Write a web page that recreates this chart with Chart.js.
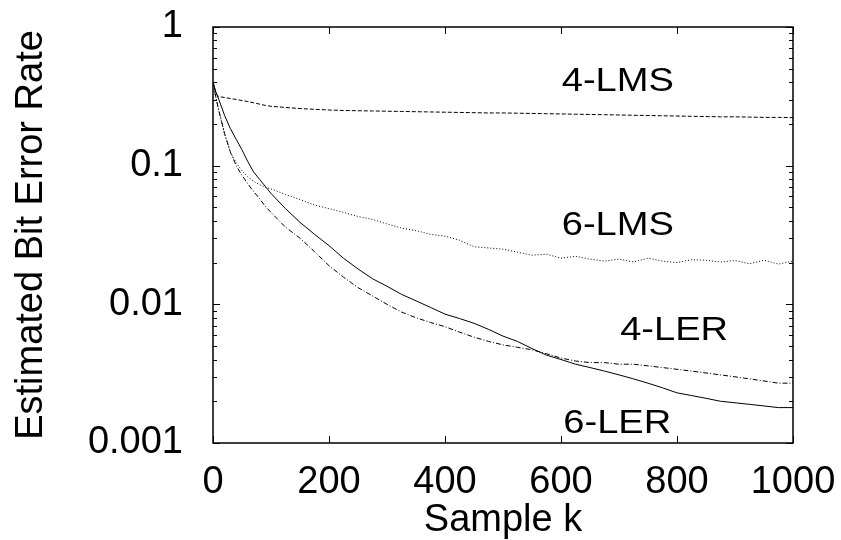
<!DOCTYPE html>
<html>
<head>
<meta charset="utf-8">
<script src="https://cdn.jsdelivr.net/npm/chart.js@4.4.1/dist/chart.umd.min.js"></script>
<style>
  html, body { margin: 0; padding: 0; background: #fff; }
  #wrap { width: 841px; height: 540px; }
</style>
</head>
<body>
<div id="wrap"><canvas id="berChart" width="841" height="540"></canvas></div>
<script>
// sample index k
const sampleK = [0, 5, 10, 20, 30, 40, 50, 60, 70, 80, 90, 100,
  125, 150, 175, 200, 225, 250, 275, 300, 325, 350, 375, 400, 425, 450, 475, 500,
  525, 550, 575, 600, 625, 650, 675, 700, 725, 750, 775, 800, 825, 850, 875, 900,
  925, 950, 975, 1000];

// estimated bit error rate per equalizer
const lms4 = [0.40, 0.33, 0.315, 0.31, 0.305, 0.30, 0.295, 0.29, 0.284, 0.278, 0.272, 0.268,
  0.263, 0.258, 0.255, 0.252, 0.250, 0.249, 0.248, 0.247, 0.246, 0.245, 0.244, 0.243,
  0.242, 0.241, 0.240, 0.240, 0.239, 0.238, 0.237, 0.236, 0.235, 0.234, 0.233, 0.232,
  0.231, 0.230, 0.229, 0.228, 0.227, 0.226, 0.225, 0.225, 0.224, 0.223, 0.223, 0.222];
const lms6 = [0.40, 0.31, 0.25, 0.17, 0.125, 0.105, 0.092, 0.083, 0.077, 0.073, 0.070, 0.068,
  0.062, 0.057, 0.052, 0.049, 0.046, 0.043, 0.041, 0.038, 0.0355, 0.034, 0.032, 0.031,
  0.029, 0.026, 0.0255, 0.025, 0.0238, 0.0226, 0.023, 0.0215, 0.0222, 0.0212, 0.0205, 0.0212,
  0.0202, 0.0215, 0.0205, 0.0200, 0.0210, 0.0208, 0.0202, 0.0207, 0.0196, 0.0208, 0.0195, 0.0205];
const ler4 = [0.40, 0.31, 0.25, 0.17, 0.125, 0.10, 0.085, 0.074, 0.065, 0.058, 0.051, 0.046,
  0.036, 0.030, 0.024, 0.019, 0.0157, 0.0132, 0.0115, 0.0100, 0.0088, 0.0080, 0.0074, 0.0069,
  0.0063, 0.0058, 0.0054, 0.0051, 0.0049, 0.0047, 0.0044, 0.0041, 0.0039, 0.0038, 0.0038, 0.0037,
  0.0037, 0.0036, 0.0035, 0.0034, 0.0033, 0.0032, 0.0031, 0.0030, 0.0029, 0.0028, 0.0027, 0.0027];
const ler6 = [0.40, 0.34, 0.30, 0.23, 0.185, 0.155, 0.13, 0.107, 0.09, 0.08, 0.071, 0.063,
  0.049, 0.039, 0.032, 0.0265, 0.0215, 0.018, 0.0153, 0.0135, 0.0118, 0.0106, 0.0095, 0.0085,
  0.0079, 0.0073, 0.0066, 0.0059, 0.0054, 0.0048, 0.0043, 0.0040, 0.0037, 0.0035, 0.0033, 0.0031,
  0.0029, 0.0027, 0.0025, 0.0023, 0.0022, 0.0021, 0.0020, 0.00195, 0.0019, 0.00185, 0.0018, 0.0018];

const xTicks = [0, 200, 400, 600, 800, 1000];
const yTicks = [0.001, 0.01, 0.1, 1];

// curve names written inside the plot, anchored in data coordinates
const curveLabels = ['4-LMS', '6-LMS', '4-LER', '6-LER'];
const labelK = [698, 698, 795, 697];
const labelBER = [0.345, 0.0316, 0.00553, 0.00118];

const FONT = '"Liberation Sans", Arial, Helvetica, sans-serif';

function toPoints(ys) {
    return sampleK.map((k, i) => ({ x: k, y: ys[i] }));
}

// frame, inward ticks and curve labels
const frameTicks = {
    id: 'frameTicks',
    afterDraw(chart) {
        const { ctx, chartArea: a, scales: { x, y } } = chart;
        ctx.save();
        ctx.strokeStyle = '#000';
        ctx.lineWidth = 1.5;
        ctx.strokeRect(a.left, a.top, a.right - a.left, a.bottom - a.top);

        ctx.lineWidth = 1;
        ctx.beginPath();
        xTicks.forEach(v => {
            const px = Math.round(x.getPixelForValue(v)) + 0.5;
            ctx.moveTo(px, a.bottom); ctx.lineTo(px, a.bottom - 7);
            ctx.moveTo(px, a.top); ctx.lineTo(px, a.top + 7);
        });
        yTicks.forEach(v => {
            const py = Math.round(y.getPixelForValue(v)) + 0.5;
            ctx.moveTo(a.left, py); ctx.lineTo(a.left + 7, py);
            ctx.moveTo(a.right, py); ctx.lineTo(a.right - 7, py);
        });
        yTicks.slice(0, -1).forEach(d => {
            for (let m = 2; m <= 9; m++) {
                const py = Math.round(y.getPixelForValue(d * m)) + 0.5;
                ctx.moveTo(a.left, py); ctx.lineTo(a.left + 4, py);
                ctx.moveTo(a.right, py); ctx.lineTo(a.right - 4, py);
            }
        });
        ctx.stroke();

        ctx.fillStyle = '#000';
        ctx.font = '34px ' + FONT;
        ctx.textAlign = 'center';
        ctx.textBaseline = 'alphabetic';
        curveLabels.forEach((txt, i) => {
            ctx.save();
            ctx.translate(x.getPixelForValue(labelK[i]), y.getPixelForValue(labelBER[i]));
            ctx.scale(1.12, 1);
            ctx.fillText(txt, 0, 0);
            ctx.restore();
        });
        ctx.restore();
    }
};

const line = (label, ys, dash) => ({
    label: label,
    data: toPoints(ys),
    borderColor: '#000',
    borderWidth: 1,
    borderDash: dash,
    pointRadius: 0,
    tension: 0,
    fill: false
});

new Chart(document.getElementById('berChart'), {
    type: 'line',
    data: {
        datasets: [
            line('4-LMS', lms4, [4, 2]),
            line('6-LMS', lms6, [1, 2]),
            line('4-LER', ler4, [5, 2, 1, 2]),
            line('6-LER', ler6, [])
        ]
    },
    options: {
        responsive: false,
        animation: false,
        devicePixelRatio: 1,
        layout: { padding: { left: 0, right: 48, top: 27, bottom: 0 } },
        plugins: { legend: { display: false }, tooltip: { enabled: false } },
        scales: {
            x: {
                type: 'linear',
                min: 0,
                max: 1000,
                afterBuildTicks: s => { s.ticks = xTicks.map(v => ({ value: v })); },
                afterFit: s => { s.height = 97; s.paddingLeft = 0; s.paddingRight = 0; },
                grid: { display: false, drawTicks: false },
                border: { display: false },
                ticks: {
                    autoSkip: false,
                    maxRotation: 0,
                    padding: 21,
                    color: '#000',
                    font: { family: FONT, size: 38, lineHeight: 1 },
                    callback: v => String(v)
                },
                title: {
                    display: true,
                    text: 'Sample k',
                    color: '#000',
                    padding: 0,
                    font: { family: FONT, size: 38, lineHeight: 1 }
                }
            },
            y: {
                type: 'logarithmic',
                min: 0.001,
                max: 1,
                afterBuildTicks: s => { s.ticks = yTicks.map(v => ({ value: v })); },
                afterFit: s => { s.width = 213; s.paddingTop = 0; s.paddingBottom = 0; },
                grid: { display: false, drawTicks: false },
                border: { display: false },
                ticks: {
                    padding: 30,
                    color: '#000',
                    font: { family: FONT, size: 38, lineHeight: 1 },
                    callback: v => String(v)
                },
                title: {
                    display: true,
                    text: 'Estimated Bit Error Rate',
                    color: '#000',
                    padding: { top: 13, bottom: 0 },
                    font: { family: FONT, size: 38, lineHeight: 1 }
                }
            }
        }
    },
    plugins: [frameTicks]
});
</script>
</body>
</html>
